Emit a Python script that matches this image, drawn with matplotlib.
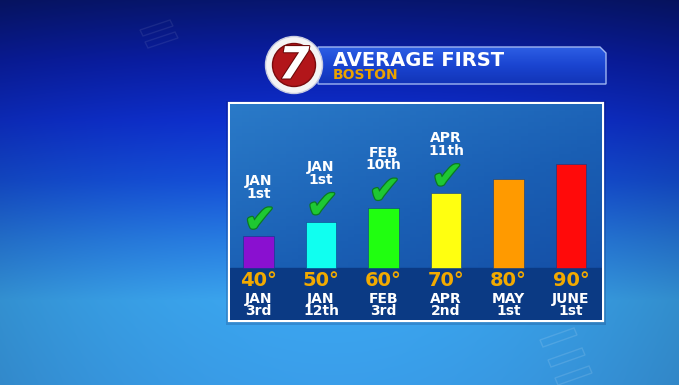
import numpy as np
import matplotlib
matplotlib.use('Agg')
import matplotlib.pyplot as plt
from matplotlib.patches import Rectangle, Circle, Polygon
from matplotlib.colors import LinearSegmentedColormap, to_rgb
import matplotlib.patheffects as pe

# data
temps = [40, 50, 60, 70, 80, 90]
temp_labels = ['40°', '50°', '60°', '70°', '80°', '90°']
avg_dates = ['JAN\n3rd', 'JAN\n12th', 'FEB\n3rd', 'APR\n2nd', 'MAY\n1st', 'JUNE\n1st']
reached = ['JAN\n1st', 'JAN\n1st', 'FEB\n10th', 'APR\n11th', None, None]
bar_colors = ['#8a10d0', '#10fff0', '#20ff10', '#ffff10', '#ff9a00', '#ff0a0a']

W, H = 679, 385
BASE = 18.0
FONT = 'DejaVu Sans'

fig = plt.figure(figsize=(W / 100, H / 100), dpi=100)

# ---- background in pixel coords
bg = fig.add_axes([0, 0, 1, 1])
bg.set_xlim(0, W); bg.set_ylim(H, 0); bg.axis('off')

ys = np.array([0, 60, 120, 180, 240, 300, 385])
cols = np.array([to_rgb(c) for c in
                 ['#07166e', '#0a1ea6', '#0e30cf', '#1550da', '#287ee4', '#3ba6f0', '#3a9eea']])
yy = np.arange(H)
vert = np.stack([np.interp(yy, ys, cols[:, k]) for k in range(3)], axis=1)
xx = np.arange(W)
shade = 1 - 0.14 * ((xx - 330) / 340.0) ** 2
img = vert[:, None, :] * shade[None, :, None]
bg.imshow(np.clip(img, 0, 1), extent=(0, W, H, 0), aspect='auto', zorder=0)

# faint decorative outlines
for (x0, y0) in [(540, 340), (548, 360), (555, 378)]:
    bg.add_patch(Polygon([(x0, y0), (x0 + 34, y0 - 12), (x0 + 37, y0 - 5), (x0 + 3, y0 + 7)],
                         closed=True, fill=False, ec=(1, 1, 1, 0.12), lw=1, zorder=1))
for (x0, y0) in [(140, 30), (145, 42)]:
    bg.add_patch(Polygon([(x0, y0), (x0 + 30, y0 - 10), (x0 + 33, y0 - 4), (x0 + 3, y0 + 6)],
                         closed=True, fill=False, ec=(1, 1, 1, 0.08), lw=1, zorder=1))

# panel frame + shadow
bg.add_patch(Rectangle((226, 101), 380, 224, fc=(0, 0, 0.2, 0.15), ec='none', zorder=2))
bg.add_patch(Rectangle((229, 103), 374, 218, fc='none', ec='white', lw=1.6, zorder=6))

# title banner
banner = Polygon([(318, 47), (600, 47), (606, 53), (606, 84), (318, 84)], closed=True,
                 fc='none', ec='#9fb6f2', lw=1.0, zorder=4)
bg.add_patch(banner)
grad = np.linspace(0, 1, 40)[:, None]
bcm = LinearSegmentedColormap.from_list('b', ['#2c5ee4', '#1a44d0', '#1234b8'])
im = bg.imshow(grad, extent=(318, 606, 84, 47), cmap=bcm, aspect='auto', zorder=3)
im.set_clip_path(banner)
bg.text(333, 60, 'AVERAGE FIRST', color='white', fontsize=14, fontweight='bold',
        family=FONT, va='center', ha='left', zorder=5)
bg.text(333, 75, 'BOSTON', color='#eaa200', fontsize=10, fontweight='bold',
        family=FONT, va='center', ha='left', zorder=5)

# logo
bg.add_patch(Circle((294, 65), 28.5, fc='#f4f4f4', ec='#c8cce0', lw=1.0, zorder=5))
bg.add_patch(Circle((294, 65), 21.5, fc='#b2161a', ec='#7a0a0c', lw=1.0, zorder=6))
bg.text(294, 66, '7', color='white', fontsize=32, fontweight='bold', style='italic',
        family=FONT, ha='center', va='center', zorder=7,
        path_effects=[pe.withStroke(linewidth=1.5, foreground='#6a0808')])

# ---- chart axes inside panel (pixels x 230..602, y 104..320)
ax = fig.add_axes([230 / W, (H - 320) / H, 372 / W, 216 / H])
px = 1.44  # pixels per degree
ax.set_xlim(-28.5 / 62.5, 343.5 / 62.5)
ax.set_ylim(BASE - 52 / px, BASE + 164 / px)
ax.axis('off')

# inner gradient
g = np.linspace(0, 1, 60)
gg = (g[None, :] * 0.4 + g[:, None] * 0.6)
pcm = LinearSegmentedColormap.from_list('p', ['#2a7ac8', '#1a5fb4', '#134aa2'])
ax.imshow(gg, extent=(*ax.get_xlim(), ax.get_ylim()[0], ax.get_ylim()[1]), origin='upper',
          cmap=pcm, aspect='auto', zorder=0)
ax.axhspan(ax.get_ylim()[0], BASE, color='#0b3a84', zorder=1)

x = np.arange(len(temps))
heights = np.array(temps) - BASE
ax.bar(x, heights, bottom=BASE, width=0.49, color=bar_colors,
       edgecolor='#0b3a84', linewidth=0.4, zorder=2)

for i, t in enumerate(temps):
    ax.text(i, BASE - 12 / px, temp_labels[i], color='#f2aa00', fontsize=14,
            fontweight='bold', family=FONT, ha='center', va='center', zorder=3)
    ax.text(i, BASE - 37 / px, avg_dates[i], color='white', fontsize=10,
            fontweight='bold', family=FONT, ha='center', va='center',
            linespacing=0.88, zorder=3)
    if reached[i]:
        ax.annotate('✔', xy=(i, t), xytext=(1, 11), textcoords='offset points',
                    color='#1ec832', fontsize=28, ha='center', va='center', family=FONT,
                    zorder=3, path_effects=[pe.withStroke(linewidth=1.8, foreground='#0b7a22')])
        ax.annotate(reached[i], xy=(i, t), xytext=(0, 35), textcoords='offset points',
                    color='white', fontsize=10, fontweight='bold', family=FONT,
                    ha='center', va='center', linespacing=0.88, zorder=3)

fig.savefig('out.png', dpi=100)
